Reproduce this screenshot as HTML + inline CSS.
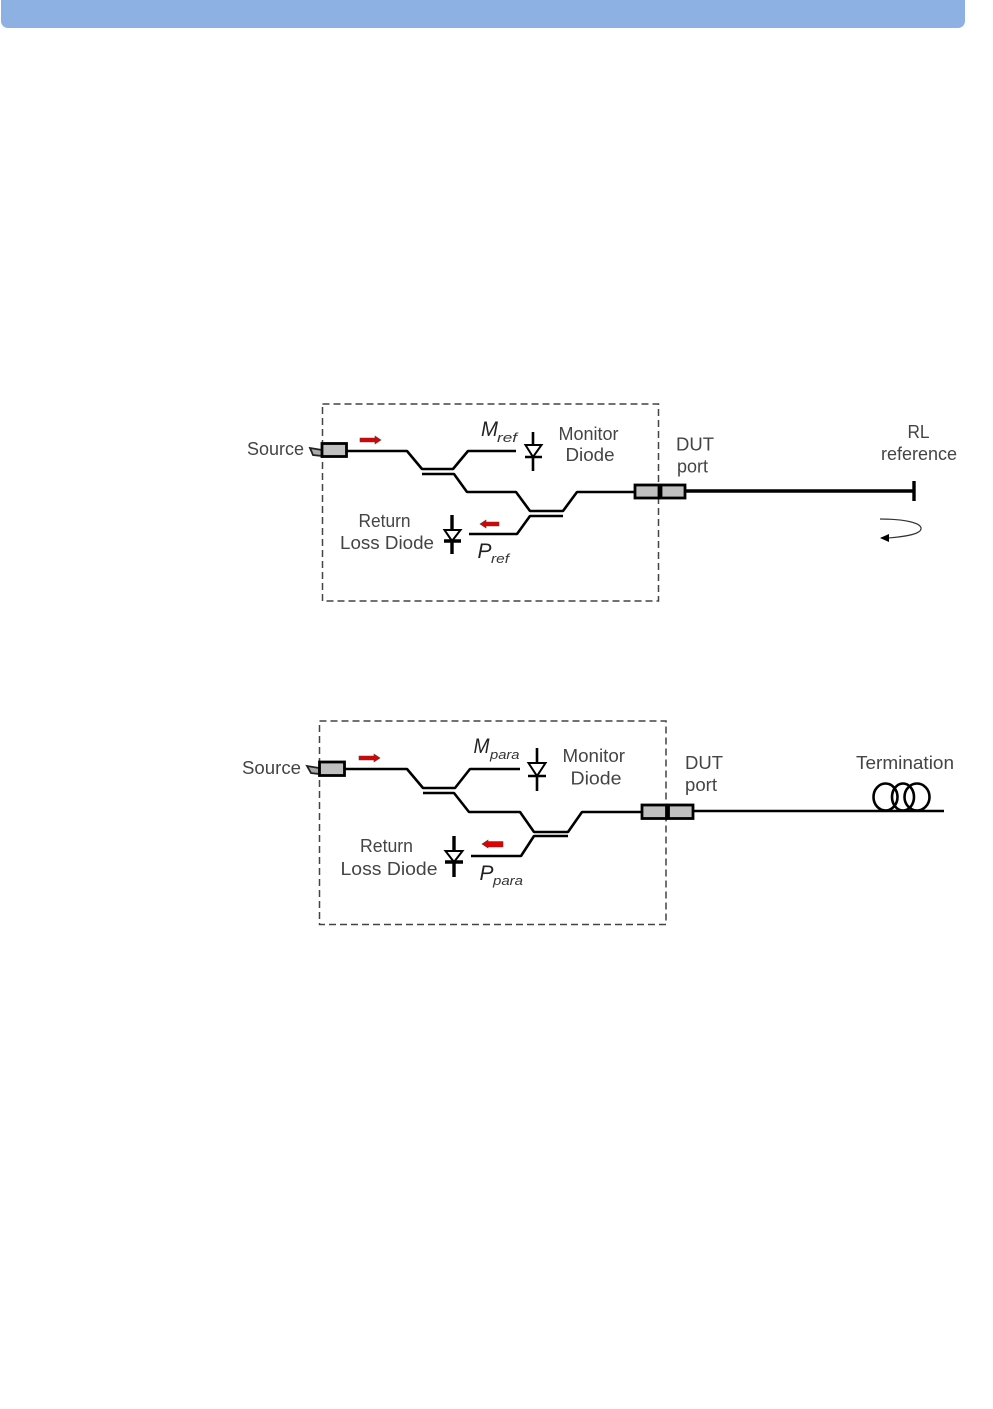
<!DOCTYPE html>
<html>
<head>
<meta charset="utf-8">
<style>
html,body{margin:0;padding:0;background:#fff;width:993px;height:1409px;overflow:hidden}
svg{display:block}
text{font-family:"Liberation Sans",sans-serif;font-size:18px;fill:#444}
.i{font-style:italic;fill:#222}
.s{font-size:13px;font-style:italic;fill:#333}
.l{fill:none;stroke:#000;stroke-width:2.6;stroke-linejoin:bevel}
.t{fill:none;stroke:#000;stroke-width:3.4}
.d{fill:none;stroke:#444;stroke-width:1.5;stroke-dasharray:7 4}
.c{fill:#c0c0c0;stroke:#000;stroke-width:2.8}
.tip{fill:#aaa;stroke:#222;stroke-width:1.8}
</style>
</head>
<body>
<svg width="993" height="1409" viewBox="0 0 993 1409" xmlns="http://www.w3.org/2000/svg">
<rect x="1" y="-6" width="964" height="34" rx="7" ry="7" fill="#8db1e3"/>

<!-- Top diagram -->
<rect class="d" x="322.500" y="404" width="336" height="197"/>
<path class="tip" d="M310 448 L322 450 L322 456 L313 455 Z"/>
<path class="l" d="M347 451 H407 L422 469 H453 L468 451 H516"/>
<path class="l" d="M422 474 H454 L467 492 H516 L530 511 H563 L577 492 H634"/>
<path class="l" d="M469 534 H517 L530 516 H563"/>
<rect class="c" x="322" y="443.500" width="24.500" height="13"/>
<rect class="c" x="635" y="485" width="24" height="13"/>
<rect class="c" x="661" y="485" width="24" height="13"/>
<path class="t" d="M685 491 H914"/>
<path d="M914 481 V501" fill="none" stroke="#000" stroke-width="3.400"/>
<path d="M880 519 C905 519 922 523 921 529 C920 535 900 537 888 538" fill="none" stroke="#333" stroke-width="1.200"/>
<path d="M880 538 L889 534 L889 542 Z" fill="#000"/>

<path class="l" d="M533 432 V445 M533 457 V471"/>
<path d="M525.500 445 H541.500 L533 457 Z" fill="#fff" stroke="#000" stroke-width="2"/>
<path class="l" d="M525 457 H542"/>
<path class="t" d="M452 515 V530 M452 541 V554"/>
<path d="M444.500 530 H460.500 L452 541 Z" fill="#fff" stroke="#000" stroke-width="2"/>
<path class="t" d="M444 541 H461"/>

<path d="M360 438 H375 V436 L381 440 L375 444 V442 H360 Z" fill="#e00000" stroke="#444" stroke-width=".6"/>
<path d="M499 522 H486 V520 L480 524 L486 528 V526 H499 Z" fill="#e00000" stroke="#444" stroke-width=".6"/>

<text x="247" y="455" textLength="57" lengthAdjust="spacingAndGlyphs">Source</text>
<text x="558.500" y="440" textLength="60" lengthAdjust="spacingAndGlyphs">Monitor</text>
<text x="565.500" y="461" textLength="49" lengthAdjust="spacingAndGlyphs">Diode</text>
<text x="676" y="450.500" textLength="38" lengthAdjust="spacingAndGlyphs">DUT</text>
<text x="677" y="472.500" textLength="31" lengthAdjust="spacingAndGlyphs">port</text>
<text x="907.500" y="438" textLength="22" lengthAdjust="spacingAndGlyphs">RL</text>
<text x="881" y="460" textLength="76" lengthAdjust="spacingAndGlyphs">reference</text>
<text x="358.500" y="527" textLength="52" lengthAdjust="spacingAndGlyphs">Return</text>
<text x="340" y="549" textLength="94" lengthAdjust="spacingAndGlyphs">Loss Diode</text>
<text class="i" x="481" y="436" style="font-size:21px" textLength="17" lengthAdjust="spacingAndGlyphs">M</text>
<text class="s" x="497" y="442" textLength="20" lengthAdjust="spacingAndGlyphs">ref</text>
<text class="i" x="477.500" y="558" style="font-size:21px" textLength="14" lengthAdjust="spacingAndGlyphs">P</text>
<text class="s" x="491" y="563" textLength="18" lengthAdjust="spacingAndGlyphs">ref</text>

<!-- Bottom diagram -->
<rect class="d" x="319.500" y="721" width="346.500" height="203.500"/>
<path class="tip" d="M307 766 L319 768 L319 774 L311 773 Z"/>
<path class="l" d="M345 769 H407 L423 788 H455 L470 769 H520"/>
<path class="l" d="M423 793 H454 L469 812 H520 L534 832 H568 L582 812 H642"/>
<path class="l" d="M471 856 H521 L534 836 H568"/>
<rect class="c" x="319.500" y="762" width="25" height="13.500"/>
<rect class="c" x="642" y="805" width="24.500" height="13.500"/>
<rect class="c" x="668.500" y="805" width="24.500" height="13.500"/>
<path d="M693 811 H944" fill="none" stroke="#000" stroke-width="2.400"/>
<g fill="none" stroke="#000" stroke-width="2.600">
<ellipse cx="885.500" cy="797" rx="12" ry="13.500"/>
<ellipse cx="903" cy="797" rx="11" ry="13.500"/>
<ellipse cx="917" cy="797" rx="12.500" ry="13.500"/>
</g>

<path class="l" d="M537 748 V763 M537 776 V791"/>
<path d="M528.500 763 H545.500 L537 776 Z" fill="#fff" stroke="#000" stroke-width="2"/>
<path class="l" d="M528 776 H546"/>
<path class="t" d="M454 836 V851 M454 862 V877"/>
<path d="M445.500 851 H462.500 L454 862 Z" fill="#fff" stroke="#000" stroke-width="2"/>
<path class="t" d="M445 862 H463"/>

<path d="M359 756 H374 V754 L380 758 L374 762 V760 H359 Z" fill="#e00000" stroke="#444" stroke-width=".6"/>
<path d="M503 841.500 H488 V840 L482 844 L488 848 V847 H503 Z" fill="#e00000" stroke="#444" stroke-width=".6"/>

<text x="242" y="774" textLength="59" lengthAdjust="spacingAndGlyphs">Source</text>
<text x="562.500" y="762" textLength="62.500" lengthAdjust="spacingAndGlyphs">Monitor</text>
<text x="570.500" y="784.500" textLength="51" lengthAdjust="spacingAndGlyphs">Diode</text>
<text x="685" y="769" textLength="38" lengthAdjust="spacingAndGlyphs">DUT</text>
<text x="685" y="791" textLength="32" lengthAdjust="spacingAndGlyphs">port</text>
<text x="856" y="769" textLength="98" lengthAdjust="spacingAndGlyphs">Termination</text>
<text x="360" y="852" textLength="53" lengthAdjust="spacingAndGlyphs">Return</text>
<text x="340.500" y="875" textLength="97" lengthAdjust="spacingAndGlyphs">Loss Diode</text>
<text class="i" x="473.500" y="753" style="font-size:21px" textLength="16" lengthAdjust="spacingAndGlyphs">M</text>
<text class="s" x="490" y="759" textLength="29.500" lengthAdjust="spacingAndGlyphs">para</text>
<text class="i" x="479.500" y="880" style="font-size:21px" textLength="14" lengthAdjust="spacingAndGlyphs">P</text>
<text class="s" x="493" y="885" textLength="30" lengthAdjust="spacingAndGlyphs">para</text>
</svg>
</body>
</html>
